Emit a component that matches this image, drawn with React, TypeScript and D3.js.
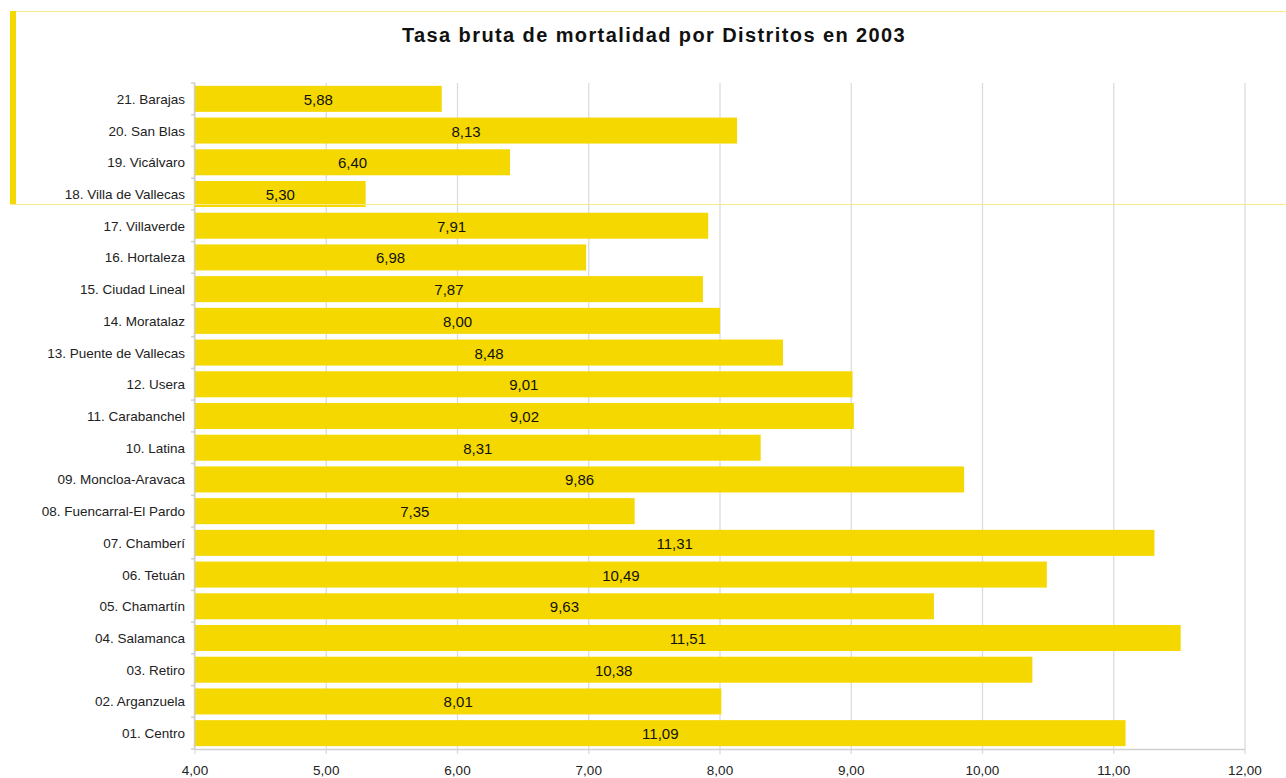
import { useEffect, useRef } from "react"
import * as d3 from "d3"

const districts = [
  "21. Barajas",
  "20. San Blas",
  "19. Vicálvaro",
  "18. Villa de Vallecas",
  "17. Villaverde",
  "16. Hortaleza",
  "15. Ciudad Lineal",
  "14. Moratalaz",
  "13. Puente de Vallecas",
  "12. Usera",
  "11. Carabanchel",
  "10. Latina",
  "09. Moncloa-Aravaca",
  "08. Fuencarral-El Pardo",
  "07. Chamberí",
  "06. Tetuán",
  "05. Chamartín",
  "04. Salamanca",
  "03. Retiro",
  "02. Arganzuela",
  "01. Centro",
]

const rates = [
  5.88, 8.13, 6.4, 5.3, 7.91, 6.98, 7.87, 8.0, 8.48, 9.01, 9.02, 8.31, 9.86,
  7.35, 11.31, 10.49, 9.63, 11.51, 10.38, 8.01, 11.09,
]

const xTicks = [4, 5, 6, 7, 8, 9, 10, 11, 12]

const fmt = (v: number) => v.toFixed(2).replace(".", ",")

export default function App() {
  const svgRef = useRef<SVGSVGElement>(null)

  useEffect(() => {
    if (!svgRef.current) return
    const root = d3.select(svgRef.current)
    root.selectAll("*").remove()

    const width = 1286
    const height = 778
    const margin = { top: 83, right: 41, bottom: 29, left: 195 }
    const chartWidth = width - margin.left - margin.right
    const chartHeight = height - margin.top - margin.bottom
    const font = "'Liberation Sans', Arial, sans-serif"

    root.attr("width", width).attr("height", height)

    // decorative frame
    root
      .append("line")
      .attr("x1", 10)
      .attr("x2", width)
      .attr("y1", 11.5)
      .attr("y2", 11.5)
      .attr("stroke", "#f7ea8f")
      .attr("stroke-width", 1)
    root
      .append("rect")
      .attr("x", 10)
      .attr("y", 11)
      .attr("width", 6)
      .attr("height", 193)
      .attr("fill", "#f5d800")

    root
      .append("text")
      .attr("x", 654)
      .attr("y", 42)
      .attr("text-anchor", "middle")
      .style("font-family", font)
      .style("font-weight", "bold")
      .style("font-size", "20px")
      .style("letter-spacing", "1.4px")
      .style("fill", "#111")
      .text("Tasa bruta de mortalidad por Distritos en 2003")

    const svg = root
      .append("g")
      .attr("transform", `translate(${margin.left},${margin.top})`)

    const x = d3.scaleLinear().domain([4, 12]).range([0, chartWidth])
    const y = d3
      .scaleBand()
      .domain(districts)
      .range([0, chartHeight])
      .paddingInner(0.18)
      .paddingOuter(0.09)

    // gridlines
    svg
      .selectAll(".grid")
      .data(xTicks)
      .enter()
      .append("line")
      .attr("x1", (d) => x(d))
      .attr("x2", (d) => x(d))
      .attr("y1", 0)
      .attr("y2", chartHeight + 5)
      .attr("stroke", "#dcdcdc")
      .attr("stroke-width", 1.3)

    // bars
    const data = districts.map((name, i) => ({ name, value: rates[i] }))
    svg
      .selectAll(".bar")
      .data(data)
      .enter()
      .append("rect")
      .attr("x", 0)
      .attr("y", (d) => y(d.name) || 0)
      .attr("width", (d) => x(d.value))
      .attr("height", y.bandwidth())
      .attr("fill", "#f5d800")

    svg
      .selectAll(".label")
      .data(data)
      .enter()
      .append("text")
      .attr("x", (d) => x(d.value) / 2)
      .attr("y", (d) => (y(d.name) || 0) + y.bandwidth() / 2 + 6)
      .attr("text-anchor", "middle")
      .style("font-family", font)
      .style("font-size", "15px")
      .style("fill", "#111")
      .text((d) => fmt(d.value))

    // left axis
    svg
      .append("line")
      .attr("x1", -0.5)
      .attr("x2", -0.5)
      .attr("y1", 0)
      .attr("y2", chartHeight)
      .attr("stroke", "#d0d0d0")
      .attr("stroke-width", 1.5)
    const step = chartHeight / districts.length
    svg
      .selectAll(".ytick")
      .data(d3.range(districts.length + 1))
      .enter()
      .append("line")
      .attr("x1", -4)
      .attr("x2", 0)
      .attr("y1", (d) => d * step)
      .attr("y2", (d) => d * step)
      .attr("stroke", "#d0d0d0")
      .attr("stroke-width", 1.5)
    svg
      .selectAll(".ylabel")
      .data(districts)
      .enter()
      .append("text")
      .attr("x", -10)
      .attr("y", (d) => (y(d) || 0) + y.bandwidth() / 2 + 5)
      .attr("text-anchor", "end")
      .style("font-family", font)
      .style("font-size", "13.5px")
      .style("fill", "#222")
      .text((d) => d)

    // bottom axis
    svg
      .append("line")
      .attr("x1", 0)
      .attr("x2", chartWidth)
      .attr("y1", chartHeight + 0.5)
      .attr("y2", chartHeight + 0.5)
      .attr("stroke", "#d0d0d0")
      .attr("stroke-width", 1.5)
    svg
      .selectAll(".xlabel")
      .data(xTicks)
      .enter()
      .append("text")
      .attr("x", (d) => x(d))
      .attr("y", chartHeight + 26)
      .attr("text-anchor", "middle")
      .style("font-family", font)
      .style("font-size", "13.5px")
      .style("fill", "#222")
      .text((d) => fmt(d))

    // thin yellow line crossing the chart
    root
      .append("line")
      .attr("x1", 10)
      .attr("x2", width)
      .attr("y1", 204.5)
      .attr("y2", 204.5)
      .attr("stroke", "#f7ea8f")
      .attr("stroke-width", 1)
  }, [])

  return (
    <svg
      ref={svgRef}
      style={{ position: "absolute", left: 0, top: 0, display: "block" }}
    ></svg>
  )
}
